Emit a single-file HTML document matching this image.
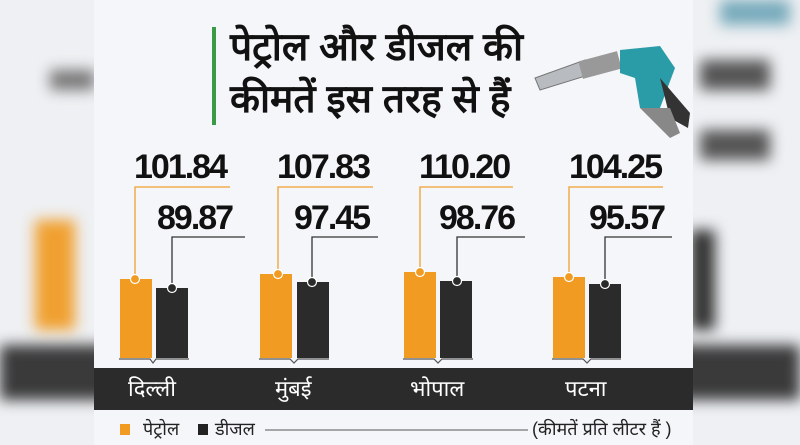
<!DOCTYPE html>
<html><head><meta charset="utf-8"><style>
*{margin:0;padding:0;box-sizing:border-box}
body{width:800px;height:445px;overflow:hidden;background:#eef0f3;position:relative;font-family:"Liberation Sans","Noto Sans CJK SC",sans-serif}
.a{position:absolute}
.num{position:absolute;font:bold 34px/34px "Liberation Sans",sans-serif;color:#111;letter-spacing:-2px}
.hi{font-family:"Liberation Sans","Noto Sans CJK SC","WenQuanYi Zen Hei",sans-serif}
.bl{filter:blur(7px)}
</style></head><body>
<div class="a bl" style="left:0;top:345px;width:800px;height:55px;background:#3a3a3a"></div>
<div class="a bl" style="left:35px;top:220px;width:40px;height:110px;background:#f0a030"></div>
<div class="a bl" style="left:50px;top:70px;width:45px;height:20px;background:#777"></div>
<div class="a bl" style="left:700px;top:60px;width:70px;height:30px;background:#555"></div>
<div class="a bl" style="left:700px;top:130px;width:70px;height:30px;background:#555"></div>
<div class="a bl" style="left:690px;top:230px;width:25px;height:100px;background:#333"></div>
<div class="a bl" style="left:720px;top:0;width:70px;height:25px;background:#7ab"></div>
<div class="a" style="left:94px;top:0;width:599px;height:445px;background:#f4f6f9"></div>
<div class="a" style="left:212px;top:27px;width:4px;height:98px;background:#3a9a45"></div>
<div class="a hi" style="left:230px;top:22px;font-size:39px;font-weight:bold;line-height:52px;color:#111">पेट्रोल और डीजल की<br>कीमतें इस तरह से हैं</div>
<svg class="a" style="left:530px;top:38px" width="165" height="110">
<path d="M5 40 L55 22 L62 36 L10 52 Z" fill="#b8bcc0" stroke="#777"/>
<rect x="50" y="18" width="40" height="18" fill="#999" transform="rotate(-15 70 27)"/>
<path d="M90 12 L130 8 L145 30 L130 70 L110 70 L105 40 L90 35 Z" fill="#2a9ca8"/>
<path d="M130 40 L160 75 L158 90 L140 80 Z" fill="#333"/>
<path d="M110 70 L140 70 L150 95 L140 100 Z" fill="#888"/>
</svg>
<svg class="a" style="left:0;top:0" width="800" height="445">
<g stroke-width="1.3" fill="none">
<polyline points="230,187 135,187 135,279" stroke="#f0a030"/>
<polyline points="245,237 172,237 172,288" stroke="#333"/>
<polyline points="373,187 278,187 278,274" stroke="#f0a030"/>
<polyline points="378,237 312,237 312,282" stroke="#333"/>
<polyline points="513,187 420,187 420,272" stroke="#f0a030"/>
<polyline points="525,237 457,237 457,281" stroke="#333"/>
<polyline points="663,187 569,187 569,277" stroke="#f0a030"/>
<polyline points="672,237 605,237 605,284" stroke="#333"/>
</g>
<g fill="#f29b22">
<rect x="120" y="279" width="32" height="79"/><rect x="260" y="274" width="32" height="84"/>
<rect x="404" y="272" width="32" height="86"/><rect x="553" y="277" width="32" height="81"/>
</g>
<g fill="#2b2b2b">
<rect x="156" y="288" width="32" height="70"/><rect x="297" y="282" width="32" height="76"/>
<rect x="440" y="281" width="32" height="77"/><rect x="589" y="284" width="32" height="74"/>
</g>
<g stroke="#fff" stroke-width="1.2">
<circle cx="135" cy="279" r="4.5" fill="#f29b22"/><circle cx="278" cy="274" r="4.5" fill="#f29b22"/>
<circle cx="420" cy="272" r="4.5" fill="#f29b22"/><circle cx="569" cy="277" r="4.5" fill="#f29b22"/>
<circle cx="172" cy="288" r="4.5" fill="#2b2b2b"/><circle cx="312" cy="282" r="4.5" fill="#2b2b2b"/>
<circle cx="457" cy="281" r="4.5" fill="#2b2b2b"/><circle cx="605" cy="284" r="4.5" fill="#2b2b2b"/>
</g>
<g stroke="#555" stroke-width="1.2" fill="none">
<polyline points="119,359 150,359 153,363 156,359 189,359"/>
<polyline points="259,359 290,359 294,363 298,359 329,359"/>
<polyline points="403,359 434,359 438,363 442,359 473,359"/>
<polyline points="552,359 583,359 587,363 591,359 621,359"/>
</g>
<rect x="94" y="368" width="599" height="42" fill="#2b2b2b"/>
<line x1="265" y1="430" x2="528" y2="430" stroke="#555" stroke-width="1"/>
<rect x="120" y="424" width="10" height="11" fill="#f29b22"/>
<rect x="198" y="424" width="10" height="11" fill="#222"/>
</svg>
<div class="num" style="left:134px;top:150px">101.84</div>
<div class="num" style="left:157px;top:201px">89.87</div>
<div class="num" style="left:277px;top:150px">107.83</div>
<div class="num" style="left:294px;top:201px">97.45</div>
<div class="num" style="left:419px;top:150px">110.20</div>
<div class="num" style="left:439px;top:201px">98.76</div>
<div class="num" style="left:569px;top:150px">104.25</div>
<div class="num" style="left:589px;top:201px">95.57</div>
<div class="a hi" style="left:0;top:373px;width:800px;color:#fff;font-size:22px">
<span class="a" style="left:128px">दिल्ली</span><span class="a" style="left:275px">मुंबई</span>
<span class="a" style="left:410px">भोपाल</span><span class="a" style="left:565px">पटना</span></div>
<div class="a hi" style="left:0;top:417px;width:800px;color:#222;font-size:18px">
<span class="a" style="left:143px">पेट्रोल</span><span class="a" style="left:215px">डीजल</span>
<span class="a" style="left:532px">(कीमतें प्रति लीटर हैं )</span></div>
</body></html>
